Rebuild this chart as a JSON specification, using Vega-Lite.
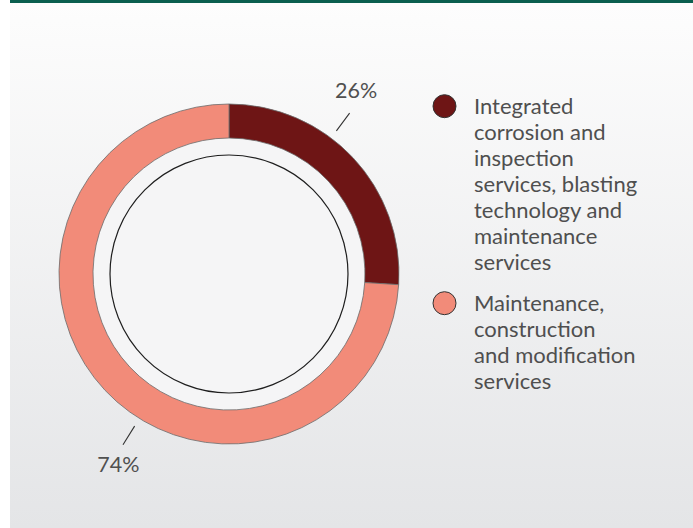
{
  "$schema": "https://vega.github.io/schema/vega-lite/v6.json",
  "padding": {"left": 10, "top": 0, "right": 0, "bottom": 0},
  "background": "#ffffff",
  "spacing": 0,
  "config": {"font": "Lato", "view": {"stroke": null}},
  "vconcat": [
    {
      "width": 683,
      "height": 3,
      "view": {"fill": "#0b5f4f", "stroke": null},
      "data": {"values": [{}]},
      "mark": {"type": "point", "opacity": 0, "size": 0}
    },
    {
      "spacing": 0,
      "hconcat": [
        {
          "spacing": 0,
          "vconcat": [
            {
              "width": 438,
              "height": 17,
              "view": {"stroke": null, "fill": {"gradient": "linear", "x1": 0, "y1": 0, "x2": 0, "y2": 1, "stops": [{"offset": 0, "color": "#fdfdfd"}, {"offset": 1, "color": "#fcfcfc"}]}},
              "data": {"values": [{}]},
              "mark": {"type": "point", "opacity": 0, "size": 0}
            },
            {
              "width": 438,
              "height": 508,
              "view": {"stroke": null, "fill": {"gradient": "linear", "x1": 0, "y1": 0, "x2": 0, "y2": 1, "stops": [{"offset": 0, "color": "#fcfcfc"}, {"offset": 1, "color": "#e4e5e7"}]}},
              "data": {"values": [
                {"category": "Integrated corrosion and inspection services, blasting technology and maintenance services", "value": 26, "start": 0, "end": 26, "labelAt": 9.7, "label": "26%"},
                {"category": "Maintenance, construction and modification services", "value": 74, "start": 26, "end": 100, "labelAt": 58.3, "label": "74%"}
              ]},
              "layer": [
                {
                  "data": {"values": [{}]},
                  "mark": {"type": "arc", "theta": 0, "theta2": 6.2832, "radius": 137, "fill": "#f5f5f6", "stroke": null}
                },
                {
                  "mark": {"type": "arc", "radius": 170, "radius2": 136, "stroke": "#6b6b6b", "strokeWidth": 0.8},
                  "encoding": {
                    "theta": {"field": "start", "type": "quantitative", "scale": {"domain": [0, 100], "range": [0, 6.283185307]}},
                    "theta2": {"field": "end"},
                    "color": {
                      "field": "category",
                      "type": "nominal",
                      "scale": {
                        "domain": ["Integrated corrosion and inspection services, blasting technology and maintenance services", "Maintenance, construction and modification services"],
                        "range": ["#6e1515", "#f28b79"]
                      },
                      "legend": {
                        "title": null,
                        "orient": "none",
                        "direction": "vertical",
                        "columns": 1,
                        "legendX": 422.5,
                        "legendY": 94.2,
                        "padding": 0,
                        "symbolType": "circle",
                        "symbolSize": 529,
                        "symbolStrokeColor": "#333333",
                        "symbolStrokeWidth": 1,
                        "labelFont": "Lato",
                        "labelFontSize": 22,
                        "labelColor": "#4f4f4f",
                        "labelOffset": 17.5,
                        "labelLimit": 400,
                        "labelBaseline": "alphabetic",
                        "rowPadding": 15,
                        "labelExpr": "datum.label == 'Maintenance, construction and modification services' ? ['Maintenance,', 'construction', 'and modification', 'services'] : ['Integrated', 'corrosion and', 'inspection', 'services, blasting', 'technology and', 'maintenance', 'services']",
                        "encode": {
                          "labels": {"update": {"dy": {"value": 8}, "lineHeight": {"value": 26}}},
                          "symbols": {"update": {"stroke": {"value": "#333333"}, "strokeWidth": {"value": 1}, "opacity": {"value": 1}}}
                        }
                      }
                    }
                  }
                },
                {
                  "data": {"values": [{}]},
                  "mark": {"type": "arc", "theta": 0, "theta2": 6.2832, "radius": 119, "fill": null, "stroke": "#1e1e1e", "strokeWidth": 1.2}
                },
                {
                  "mark": {"type": "arc", "radius": 201, "radius2": 179, "fill": null, "stroke": "#333333", "strokeWidth": 1.1, "thetaOffset": 0.034, "theta2Offset": 0.034},
                  "encoding": {
                    "theta": {"field": "labelAt", "type": "quantitative", "scale": {"domain": [0, 100], "range": [0, 6.283185307]}},
                    "theta2": {"field": "labelAt"}
                  }
                },
                {
                  "mark": {"type": "text", "radius": 222, "font": "Lato", "fontSize": 21.5, "color": "#505050", "align": "center", "baseline": "middle"},
                  "encoding": {
                    "theta": {"field": "labelAt", "type": "quantitative", "scale": {"domain": [0, 100], "range": [0, 6.283185307]}},
                    "text": {"field": "label"}
                  }
                }
              ]
            }
          ]
        },
        {
          "width": 245,
          "height": 525,
          "view": {"stroke": null, "fill": {"gradient": "linear", "x1": 0, "y1": 0, "x2": 0, "y2": 1, "stops": [{"offset": 0, "color": "#fdfdfd"}, {"offset": 1, "color": "#e4e5e7"}]}},
          "data": {"values": [{}]},
          "mark": {"type": "point", "opacity": 0, "size": 0}
        }
      ]
    }
  ]
}
